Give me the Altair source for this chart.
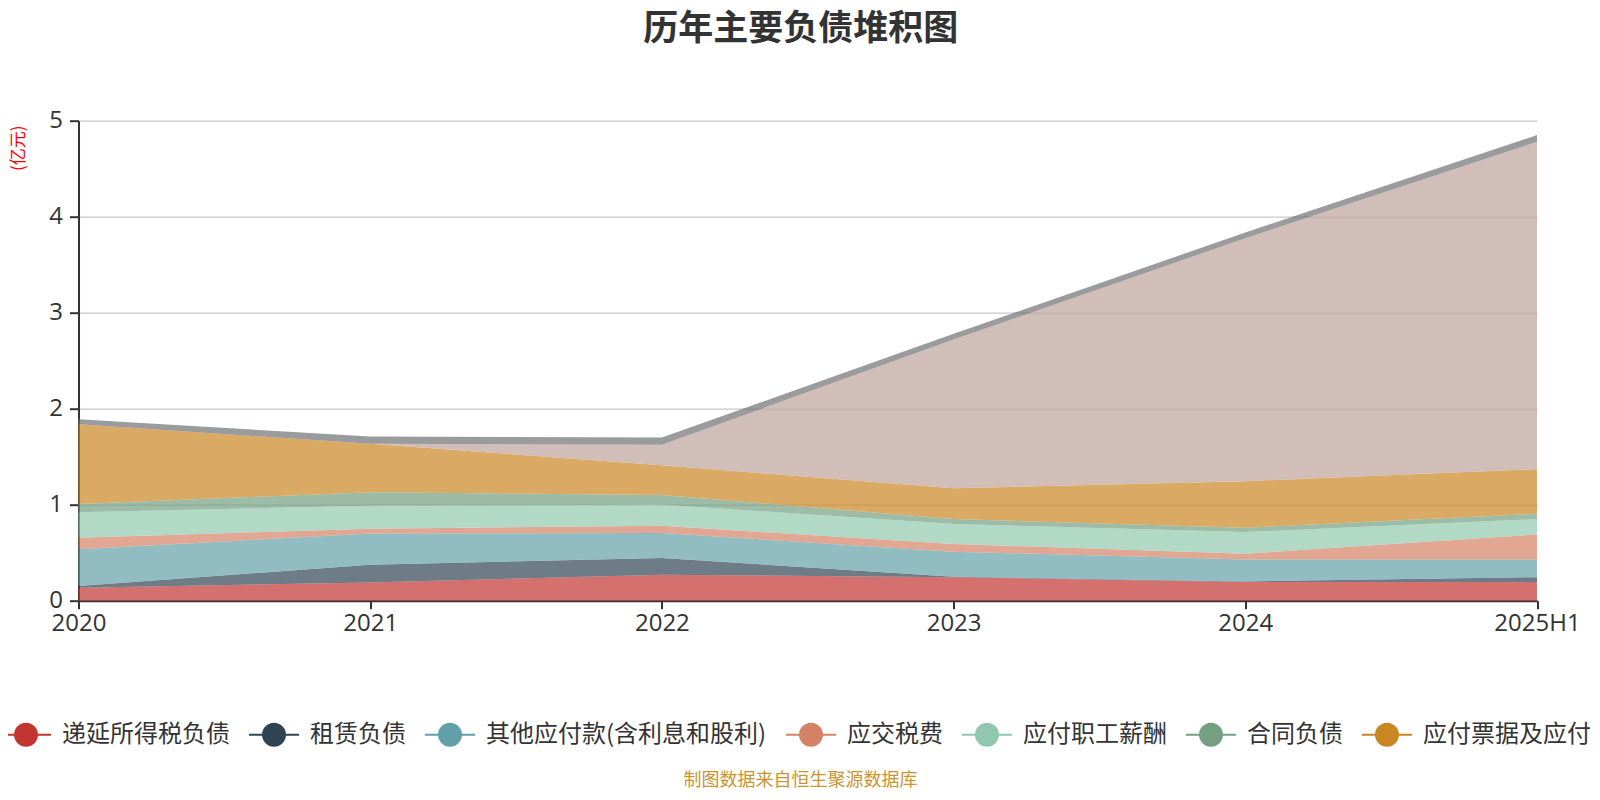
import altair as alt
import pandas as pd

periods = ["2020", "2021", "2022", "2023", "2024", "2025H1"]
series_names = [
    "递延所得税负债",
    "租赁负债",
    "其他应付款(含利息和股利)",
    "应交税费",
    "应付职工薪酬",
    "合同负债",
    "应付票据及应付账款",
    "短期借款",
    "其他流动负债",
]
deferred_tax = [0.135, 0.19, 0.27, 0.245, 0.195, 0.195]
lease = [0.018, 0.185, 0.175, 0.005, 0.005, 0.05]
other_payables = [0.382, 0.325, 0.26, 0.26, 0.23, 0.185]
taxes_payable = [0.12, 0.05, 0.075, 0.08, 0.06, 0.26]
payroll = [0.265, 0.24, 0.22, 0.21, 0.225, 0.16]
contract_liab = [0.087, 0.14, 0.10, 0.05, 0.045, 0.055]
notes_accounts_payable = [0.83, 0.505, 0.31, 0.32, 0.485, 0.465]
short_loans = [0.0, 0.0, 0.215, 1.55, 2.53, 3.41]
other_current = [0.053, 0.075, 0.075, 0.06, 0.06, 0.07]

palette = ["#c23531", "#2f4554", "#61a0a8", "#d48265", "#91c7ae",
           "#749f83", "#ca8622", "#bda29a", "#6e7074"]

all_series = [deferred_tax, lease, other_payables, taxes_payable, payroll,
              contract_liab, notes_accounts_payable, short_loans, other_current]

rows = []
for i, (name, vals) in enumerate(zip(series_names, all_series)):
    for p, v in zip(periods, vals):
        rows.append({"period": p, "series": name, "value": v, "order": i})
df = pd.DataFrame(rows)

FONT = "Noto Sans CJK SC, Open Sans, sans-serif"
NUM_FONT = "Open Sans, Noto Sans CJK SC, sans-serif"

symbol_path = ("M-1,0L-0.44,0M0.44,0L1,0"
               "M0.44,0A0.44,0.44,0,1,1,-0.44,0A0.44,0.44,0,1,1,0.44,0Z")

legend = alt.Legend(
    orient="none", legendX=-78.5, legendY=588, direction="horizontal",
    columns=7, title=None, values=series_names[:7],
    symbolType=symbol_path, symbolSize=2500, symbolStrokeWidth=2,
    symbolOpacity=1, labelFontSize=24, labelColor="#333", labelFont=FONT,
    labelOffset=10, columnPadding=15, labelLimit=500, padding=0,
)

color_scale = alt.Scale(domain=series_names, range=palette)

chart = alt.Chart(df).mark_area(opacity=0.7, strokeWidth=0).encode(
    x=alt.X("period:O", sort=periods,
            scale=alt.Scale(type="point", padding=0),
            axis=alt.Axis(labelAngle=0, labelFontSize=24, labelColor="#333",
                          labelFont=NUM_FONT, labelPadding=3,
                          tickSize=8, tickColor="#333", tickWidth=2,
                          domainColor="#333", domainWidth=2, grid=False,
                          title="制图数据来自恒生聚源数据库",
                          titleColor="#c8952f", titleFont=FONT,
                          titleFontSize=18, titleFontWeight="normal",
                          titleX=721.5, titleY=185, titleAlign="center",
                          titleBaseline="alphabetic")),
    y=alt.Y("value:Q", stack="zero",
            scale=alt.Scale(domain=[0, 5], nice=False),
            axis=alt.Axis(values=[0, 1, 2, 3, 4, 5], labelFontSize=24,
                          labelColor="#333", labelFont=NUM_FONT,
                          labelPadding=7, tickSize=9, tickColor="#333",
                          tickWidth=2, domainColor="#333", domainWidth=2,
                          grid=True, gridColor="#c8c8c8", gridWidth=1.3,
                          title="(亿元)", titleColor="red", titleFont=FONT,
                          titleFontSize=17, titleFontWeight="normal",
                          titleAngle=-90, titleX=-60.5, titleY=27,
                          titleAlign="center", titleBaseline="middle")),
    color=alt.Color("series:N", scale=color_scale, legend=legend),
    stroke=alt.Stroke("series:N", scale=color_scale, legend=legend),
    order=alt.Order("order:Q", sort="ascending"),
).properties(
    width=1458.5, height=480,
    padding={"left": 70.5, "top": 112.7, "right": 55, "bottom": 191},
    autosize="none",
    title=alt.Title("历年主要负债堆积图", fontSize=35, font=FONT,
                    fontWeight="bold", color="#333", anchor="middle",
                    offset=62, dx=-7),
).configure_view(stroke=None)

chart.save("out.html", embed_options={"renderer": "svg", "actions": False})
